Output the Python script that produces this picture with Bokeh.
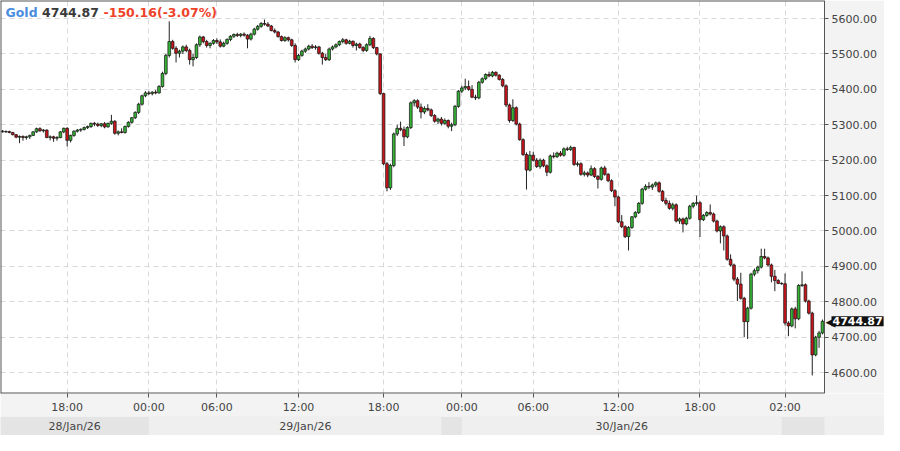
from bokeh.plotting import figure
from bokeh.models import Range1d, FixedTicker, Label, ColumnDataSource, NumeralTickFormatter
from bokeh.layouts import column
from bokeh.core.properties import value
from bokeh.embed import file_html
from bokeh.resources import INLINE

# ---------------- data (15-minute candles, Gold) ----------------
opens = [
    5282, 5280, 5281, 5278, 5272, 5265, 5267, 5264, 5266, 5270,
    5280, 5289, 5283, 5285, 5264, 5266, 5262, 5264, 5280, 5290,
    5256, 5270, 5282, 5285, 5287, 5292, 5295, 5304, 5302, 5298,
    5303, 5294, 5304, 5310, 5276, 5280, 5278, 5295, 5307, 5320,
    5335, 5358, 5382, 5390, 5388, 5392, 5390, 5408, 5445, 5496,
    5535, 5516, 5502, 5508, 5520, 5510, 5484, 5490, 5526, 5548,
    5535, 5524, 5530, 5538, 5534, 5522, 5530, 5541, 5550, 5555,
    5552, 5556, 5553, 5542, 5556, 5570, 5578, 5586, 5584, 5579,
    5566, 5562, 5549, 5538, 5546, 5540, 5524, 5484, 5496, 5508,
    5514, 5522, 5518, 5520, 5502, 5490, 5484, 5514, 5520, 5526,
    5535, 5540, 5530, 5536, 5524, 5528, 5518, 5510, 5526, 5544,
    5518, 5500, 5388, 5190, 5122, 5185, 5274, 5290, 5286, 5266,
    5292, 5362, 5368, 5350, 5336, 5346, 5342, 5326, 5310, 5316,
    5304, 5312, 5296, 5300, 5352, 5395, 5404, 5408, 5400, 5378,
    5376, 5420, 5430, 5442, 5438, 5448, 5440, 5428, 5410, 5356,
    5312, 5348, 5302, 5258, 5216, 5172, 5214, 5200, 5182, 5200,
    5184, 5166, 5212, 5210, 5220, 5214, 5232, 5230, 5236, 5188,
    5190, 5160, 5164, 5158, 5176, 5154, 5146, 5178, 5160, 5142,
    5114, 5096, 5026, 5012, 4984, 5010, 5040, 5052, 5078, 5118,
    5126, 5124, 5130, 5136, 5112, 5086, 5078, 5064, 5074, 5028,
    5034, 5020, 5036, 5070, 5078, 5080, 5032, 5044, 5052, 5048,
    5028, 5000, 5012, 4986, 4920, 4904, 4864, 4850, 4810, 4744,
    4782, 4878, 4888, 4898, 4928, 4924, 4904, 4872, 4860, 4852,
    4851, 4740, 4732, 4780, 4752, 4846, 4848, 4802, 4768, 4650,
    4700, 4712,
]
highs = [
    5285, 5284, 5283, 5280, 5274, 5270, 5270, 5269, 5272, 5282,
    5292, 5293, 5288, 5287, 5270, 5269, 5268, 5282, 5292, 5293,
    5272, 5284, 5288, 5290, 5295, 5298, 5306, 5308, 5306, 5305,
    5308, 5306, 5328, 5313, 5284, 5290, 5298, 5310, 5322, 5338,
    5362, 5385, 5395, 5396, 5395, 5398, 5412, 5450, 5500, 5592,
    5540, 5522, 5512, 5524, 5526, 5515, 5500, 5530, 5552, 5551,
    5540, 5533, 5542, 5544, 5541, 5535, 5544, 5553, 5558, 5560,
    5559, 5561, 5556, 5560, 5574, 5582, 5590, 5597, 5590, 5582,
    5572, 5565, 5552, 5550, 5549, 5543, 5530, 5500, 5512, 5518,
    5526, 5528, 5525, 5523, 5506, 5500, 5518, 5524, 5530, 5538,
    5545, 5543, 5540, 5538, 5532, 5532, 5522, 5530, 5551, 5547,
    5520, 5502, 5390, 5195, 5190, 5278, 5300, 5309, 5295, 5296,
    5366, 5372, 5372, 5360, 5352, 5358, 5346, 5330, 5320, 5322,
    5318, 5315, 5306, 5356, 5398, 5410, 5430, 5425, 5412, 5385,
    5424, 5434, 5445, 5450, 5452, 5451, 5443, 5432, 5414, 5360,
    5372, 5352, 5306, 5262, 5222, 5226, 5224, 5206, 5205, 5204,
    5188, 5216, 5222, 5224, 5226, 5236, 5238, 5241, 5238, 5196,
    5194, 5170, 5168, 5185, 5180, 5158, 5182, 5184, 5164, 5146,
    5118, 5100, 5045, 5016, 5014, 5042, 5056, 5082, 5122, 5132,
    5138, 5134, 5140, 5140, 5116, 5094, 5086, 5080, 5078, 5038,
    5038, 5040, 5074, 5082, 5100, 5084, 5048, 5056, 5075, 5052,
    5032, 5016, 5016, 4990, 4934, 4908, 4870, 4882, 4814, 4786,
    4882, 4894, 4902, 4950, 4950, 4928, 4908, 4890, 4864, 4855,
    4880, 4745, 4784, 4786, 4850, 4886, 4852, 4806, 4772, 4704,
    4718, 4750,
]
lows = [
    5278, 5277, 5276, 5270, 5262, 5248, 5255, 5258, 5260, 5268,
    5277, 5280, 5278, 5262, 5256, 5252, 5255, 5262, 5276, 5239,
    5250, 5266, 5278, 5280, 5284, 5288, 5291, 5296, 5294, 5293,
    5290, 5292, 5300, 5272, 5270, 5276, 5275, 5292, 5303, 5316,
    5330, 5354, 5378, 5384, 5383, 5386, 5388, 5405, 5440, 5490,
    5512, 5476, 5490, 5500, 5505, 5470, 5465, 5486, 5520, 5530,
    5518, 5516, 5526, 5528, 5518, 5519, 5526, 5536, 5545, 5548,
    5547, 5549, 5516, 5538, 5552, 5566, 5574, 5580, 5576, 5564,
    5558, 5546, 5535, 5534, 5535, 5520, 5476, 5480, 5492, 5503,
    5510, 5514, 5512, 5498, 5470, 5480, 5480, 5510, 5516, 5522,
    5530, 5526, 5527, 5518, 5510, 5515, 5505, 5506, 5522, 5514,
    5496, 5384, 5186, 5112, 5116, 5180, 5268, 5282, 5240, 5262,
    5288, 5352, 5345, 5318, 5330, 5338, 5322, 5306, 5302, 5298,
    5300, 5290, 5282, 5296, 5348, 5390, 5398, 5396, 5375, 5370,
    5372, 5416, 5426, 5434, 5434, 5436, 5425, 5406, 5350, 5306,
    5308, 5298, 5255, 5212, 5117, 5168, 5196, 5178, 5176, 5180,
    5155, 5162, 5205, 5206, 5210, 5210, 5226, 5226, 5184, 5182,
    5156, 5154, 5152, 5155, 5150, 5120, 5142, 5156, 5138, 5110,
    5070, 5022, 5008, 4980, 4945, 5006, 5036, 5048, 5074, 5114,
    5118, 5116, 5124, 5108, 5082, 5072, 5060, 5058, 5024, 5020,
    4996, 5016, 5032, 5064, 5072, 4983, 5028, 5040, 5044, 5024,
    4996, 4965, 4945, 4916, 4900, 4858, 4802, 4806, 4700, 4695,
    4778, 4872, 4880, 4894, 4920, 4900, 4855, 4830, 4850, 4848,
    4733, 4703, 4728, 4725, 4748, 4842, 4798, 4764, 4592, 4646,
    4670, 4708,
]
closes = [
    5280, 5281, 5278, 5272, 5265, 5267, 5264, 5266, 5270, 5280,
    5289, 5283, 5285, 5264, 5266, 5262, 5264, 5280, 5290, 5256,
    5270, 5282, 5285, 5287, 5292, 5295, 5304, 5302, 5298, 5303,
    5294, 5304, 5310, 5276, 5280, 5278, 5295, 5307, 5320, 5335,
    5358, 5382, 5390, 5388, 5392, 5390, 5408, 5445, 5496, 5535,
    5516, 5502, 5508, 5520, 5510, 5484, 5490, 5526, 5548, 5535,
    5524, 5530, 5538, 5534, 5522, 5530, 5541, 5550, 5555, 5552,
    5556, 5553, 5542, 5556, 5570, 5578, 5586, 5584, 5579, 5566,
    5562, 5549, 5538, 5546, 5540, 5524, 5484, 5496, 5508, 5514,
    5522, 5518, 5520, 5502, 5490, 5484, 5514, 5520, 5526, 5535,
    5540, 5530, 5536, 5524, 5528, 5518, 5510, 5526, 5544, 5518,
    5500, 5388, 5190, 5122, 5185, 5274, 5290, 5286, 5266, 5292,
    5362, 5368, 5350, 5336, 5346, 5342, 5326, 5310, 5316, 5304,
    5312, 5296, 5300, 5352, 5395, 5404, 5408, 5400, 5378, 5376,
    5420, 5430, 5442, 5438, 5448, 5440, 5428, 5410, 5356, 5312,
    5348, 5302, 5258, 5216, 5172, 5214, 5200, 5182, 5200, 5184,
    5166, 5212, 5210, 5220, 5214, 5232, 5230, 5236, 5188, 5190,
    5160, 5164, 5158, 5176, 5154, 5146, 5178, 5160, 5142, 5114,
    5096, 5026, 5012, 4984, 5010, 5040, 5052, 5078, 5118, 5126,
    5124, 5130, 5136, 5112, 5086, 5078, 5064, 5074, 5028, 5034,
    5020, 5036, 5070, 5078, 5080, 5032, 5044, 5052, 5048, 5028,
    5000, 5012, 4986, 4920, 4904, 4864, 4850, 4810, 4744, 4782,
    4878, 4888, 4898, 4928, 4924, 4904, 4872, 4860, 4852, 4851,
    4740, 4732, 4780, 4752, 4846, 4848, 4802, 4768, 4650, 4700,
    4712, 4744.87,
]

# time axis: bar index of each labelled time, and labels
tick_bars = [19, 43, 63, 87, 112, 135, 156, 181, 205, 230]
tick_labels = ["18:00", "00:00", "06:00", "12:00", "18:00",
               "00:00", "06:00", "12:00", "18:00", "02:00"]
price_ticks = [4600, 4700, 4800, 4900, 5000, 5100, 5200, 5300, 5400, 5500, 5600]

# day strip: labels and first bar of each day
day_labels = ["28/Jan/26", "29/Jan/26", "30/Jan/26"]
day_starts = [43, 135, 229]          # first bar of 29, 30, 31 Jan

symbol = "Gold"
last_price = 4744.87
change = -150.16
change_pct = -3.07

# ---------------- layout constants ----------------
W, H_MAIN, H_STRIP = 884, 416, 19
B_BOTTOM = 22
LW = 60                       # width of the price-label column (pixels)
CW = W - LW                   # width of the candle area (pixels)
FH = H_MAIN - B_BOTTOM
X0, X1 = -0.6, len(closes) - 0.4
ux = (X1 - X0) / CW
XE = X1 + LW * ux             # right end of frame (covers the label column)
Y0, Y1 = 4541, 5651
uy = (Y1 - Y0) / FH

FONT = "DejaVu Sans"
GREEN, RED = "#36b236", "#c8161d"
PANEL = "#f3f3f3"

n = len(closes)
up = [c >= o for o, c in zip(opens, closes)]
src = ColumnDataSource(dict(
    x=list(range(n)),
    top=[max(o, c) for o, c in zip(opens, closes)],
    bottom=[min(o, c) for o, c in zip(opens, closes)],
    high=highs, low=lows,
    color=[GREEN if u else RED for u in up],
))

p = figure(width=W, height=H_MAIN, x_range=Range1d(X0, XE), y_range=Range1d(Y0, Y1),
           output_backend="svg", toolbar_location=None, y_axis_location="right",
           min_border_left=0, min_border_right=0, min_border_top=0, min_border_bottom=B_BOTTOM)
p.background_fill_color = "white"
p.border_fill_color = PANEL
p.outline_line_color = None

# axes
p.xaxis.ticker = FixedTicker(ticks=tick_bars)
p.xaxis.major_label_overrides = {t: l for t, l in zip(tick_bars, tick_labels)}
p.yaxis.ticker = FixedTicker(ticks=price_ticks)
p.yaxis.formatter = NumeralTickFormatter(format="0.00")
p.yaxis.fixed_location = X1
for ax in (p.xaxis[0], p.yaxis[0]):
    ax.axis_line_color = None
    ax.major_tick_line_color = "#555555"
    ax.major_tick_out = 4
    ax.major_tick_in = 0
    ax.minor_tick_line_color = None
    ax.major_label_text_font = FONT
    ax.major_label_text_font_size = "11px"
    ax.major_label_text_color = "#444444"
    ax.major_label_standoff = 3

for g in (p.xgrid[0], p.ygrid[0]):
    g.grid_line_color = "#d9d9d9"
    g.grid_line_dash = "5 4"
    g.grid_line_width = 1

# label column background (covers grid lines right of the candle area)
p.quad(left=[X1], right=[XE], bottom=[Y0], top=[Y1], fill_color=PANEL, line_color=None)

# candles
p.segment(x0="x", y0="low", x1="x", y1="high", source=src, line_color="#222222", line_width=1)
p.vbar(x="x", top="top", bottom="bottom", width=0.8, source=src,
       fill_color="color", line_color="#111111", line_width=0.7)

# border of the candle area
p.segment(x0=[X0, X0, X0], y0=[Y0, Y1, Y0], x1=[X0, X1, X1], y1=[Y1, Y1, Y0],
          line_color="#555555", line_width=2)
p.segment(x0=[X1], y0=[Y0], x1=[X1], y1=[Y1], line_color="#555555", line_width=1)

# title pieces
ty = Y1 - 12 * uy
p.add_layout(Label(x=X0 + 5 * ux, y=ty, text=symbol, text_font=FONT, text_font_size="12.5px",
                   text_font_style="bold", text_color="#4a8ddf", text_baseline="middle"))
p.add_layout(Label(x=X0 + 41.5 * ux, y=ty, text=f"{last_price:.2f}", text_font=FONT,
                   text_font_size="12.5px", text_font_style="bold", text_color="#3a3a3a",
                   text_baseline="middle"))
p.add_layout(Label(x=X0 + 103 * ux, y=ty, text=f"{change:.2f}({change_pct:.2f}%)", text_font=FONT,
                   text_font_size="12.5px", text_font_style="bold", text_color="#ee4229",
                   text_baseline="middle"))

# last price marker on the price column
p.add_layout(Label(x=X1, y=last_price, x_offset=1, text="\u25C0", text_font=FONT,
                   text_font_size="13px", text_color="#111111", text_baseline="middle",
                   text_align="left"))
p.add_layout(Label(x=X1, y=last_price, x_offset=7, text=f"{last_price:.2f}", text_font=FONT,
                   text_font_size="11px", text_font_style="bold", text_color="white",
                   text_baseline="middle", background_fill_color="#111111", padding=1))

# day strip
s = figure(width=W, height=H_STRIP, x_range=p.x_range, y_range=Range1d(0, 1),
           output_backend="svg", toolbar_location=None, x_axis_location=None, y_axis_location=None,
           min_border_left=0, min_border_right=0, min_border_top=0, min_border_bottom=0)
s.background_fill_color = "#e4e4e4"
s.border_fill_color = "#e4e4e4"
s.outline_line_color = None
s.xgrid.visible = False
s.ygrid.visible = False
bounds = [X0] + day_starts
lefts = bounds[1:-1] + [X1]
rights = [day_starts[1] - 6, day_starts[2], XE]
s.quad(left=lefts, right=rights, bottom=0, top=1, fill_color="#efefef", line_color=None)
centers = [(a + b) / 2 for a, b in zip(bounds[:-1], bounds[1:])]
s.text(x=centers, y=[0.45] * len(centers), text=day_labels, text_font=value(FONT),
       text_font_size="11px", text_color="#444444", text_align="center", text_baseline="middle")

layout = column(p, s, spacing=0)
open("out.html", "w").write(file_html(layout, INLINE))
